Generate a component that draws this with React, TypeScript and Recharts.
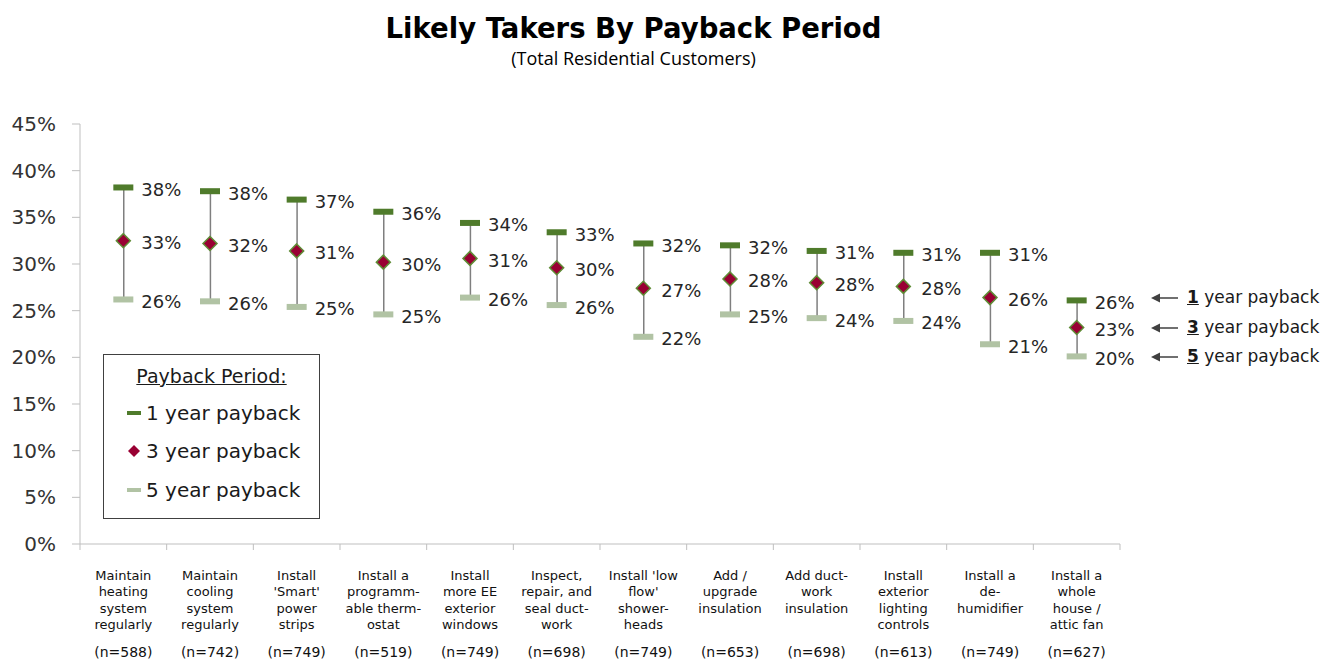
import React from "react";
import { ComposedChart, Bar, Line, XAxis, YAxis } from "recharts";

const categories = [
  "Maintain\nheating\nsystem\nregularly",
  "Maintain\ncooling\nsystem\nregularly",
  "Install\n'Smart'\npower\nstrips",
  "Install a\nprogramm-\nable therm-\nostat",
  "Install\nmore EE\nexterior\nwindows",
  "Inspect,\nrepair, and\nseal duct-\nwork",
  "Install 'low\nflow'\nshower-\nheads",
  "Add /\nupgrade\ninsulation",
  "Add duct-\nwork\ninsulation",
  "Install\nexterior\nlighting\ncontrols",
  "Install a\nde-\nhumidifier",
  "Install a\nwhole\nhouse /\nattic fan",
];
const sampleSizes = [588, 742, 749, 519, 749, 698, 749, 653, 698, 613, 749, 627];

const oneYear = [38.2, 37.8, 36.9, 35.6, 34.4, 33.4, 32.2, 32.0, 31.4, 31.2, 31.2, 26.1];
const threeYear = [32.5, 32.2, 31.4, 30.2, 30.6, 29.6, 27.4, 28.4, 28.0, 27.6, 26.4, 23.2];
const fiveYear = [26.2, 26.0, 25.4, 24.6, 26.4, 25.6, 22.2, 24.6, 24.2, 23.9, 21.4, 20.1];

const yTicks = [0, 5, 10, 15, 20, 25, 30, 35, 40, 45];
const xTicks = [0, 1, 2, 3, 4, 5, 6, 7, 8, 9, 10, 11, 12];

const data = categories.map((name, i) => ({
  pos: i + 0.5,
  name,
  n: sampleSizes[i],
  one: oneYear[i],
  three: threeYear[i],
  five: fiveYear[i],
  range: [fiveYear[i], oneYear[i]],
}));

const FONT = "'DejaVu Sans', Verdana, sans-serif";
const DARK_GREEN = "#4f7b2b";
const LIGHT_GREEN = "#b1c3a4";
const MAROON = "#990033";
const AXIS = "#bfbfbf";

const W = 1337;
const H = 662;
const MARGIN = { top: 124, right: 217, left: 10, bottom: 0 };
const Y_AXIS_W = 70;
const PLOT_W = W - MARGIN.left - MARGIN.right - Y_AXIS_W;
const BAND = PLOT_W / categories.length;

const CategoryTick = (props: any) => {
  const { x, y, payload } = props;
  const i = payload.value;
  if (i >= categories.length) return null;
  const cx = x + BAND / 2;
  const lines = categories[i].split("\n");
  return (
    <g>
      {lines.map((line, k) => (
        <text
          key={k}
          x={cx}
          y={y + 23 + k * 16.5}
          textAnchor="middle"
          dominantBaseline="central"
          fontSize={13}
          fontFamily={FONT}
          fill="#111"
        >
          {line}
        </text>
      ))}
      <text
        x={cx}
        y={y + 100}
        textAnchor="middle"
        dominantBaseline="central"
        fontSize={14}
        fontFamily={FONT}
        fill="#111"
      >
        {`(n=${sampleSizes[i]})`}
      </text>
    </g>
  );
};

const valueLabel = (props: any) => {
  const { x, y, value } = props;
  return (
    <text
      x={x + 18}
      y={y + 2}
      dominantBaseline="central"
      fontSize={18}
      fontFamily={FONT}
      fill="#262626"
    >
      {`${Math.round(value)}%`}
    </text>
  );
};

const OneDot = (props: any) => {
  const { cx, cy } = props;
  return <rect x={cx - 10} y={cy - 3} width={20} height={6} fill={DARK_GREEN} />;
};

const FiveDot = (props: any) => {
  const { cx, cy } = props;
  return <rect x={cx - 10} y={cy - 3} width={20} height={6} fill={LIGHT_GREEN} />;
};

const ThreeDot = (props: any) => {
  const { cx, cy } = props;
  const r = 7;
  return (
    <polygon
      points={`${cx},${cy - r} ${cx + r},${cy} ${cx},${cy + r} ${cx - r},${cy}`}
      fill={MAROON}
      stroke="#5f8c36"
      strokeWidth={1.5}
    />
  );
};

const Arrow = ({ y }: { y: number }) => (
  <svg
    width={30}
    height={12}
    style={{ position: "absolute", left: 1150, top: y - 6 }}
  >
    <line x1={8} y1={6} x2={28} y2={6} stroke="#404040" strokeWidth={1.5} />
    <polygon points="1,6 10,1.5 10,10.5" fill="#404040" />
  </svg>
);

const payLabels = [
  { num: "1", y: 298 },
  { num: "3", y: 328 },
  { num: "5", y: 357 },
];

export default function App() {
  return (
    <div
      style={{
        position: "absolute",
        left: 0,
        top: 0,
        width: W,
        height: H,
        background: "#fff",
        fontFamily: FONT,
      }}
    >
      <div
        style={{
          position: "absolute",
          left: 0,
          width: W - 70,
          top: 12,
          textAlign: "center",
          fontSize: 27.5,
          fontWeight: "bold",
          color: "#000",
        }}
      >
        Likely Takers By Payback Period
      </div>
      <div
        style={{
          position: "absolute",
          left: 0,
          width: W - 70,
          top: 46,
          textAlign: "center",
          fontSize: 18,
          fontFamily: "'Liberation Sans Narrow', 'Open Sans', sans-serif",
          color: "#000",
        }}
      >
        (Total Residential Customers)
      </div>

      <ComposedChart width={W} height={H} data={data} margin={MARGIN}>
        <XAxis
          dataKey="pos"
          type="number"
          domain={[0, 12]}
          ticks={xTicks}
          interval={0}
          height={118}
          axisLine={{ stroke: AXIS }}
          tickLine={{ stroke: AXIS }}
          tickSize={6}
          tick={<CategoryTick />}
        />
        <YAxis
          type="number"
          domain={[0, 45]}
          ticks={yTicks}
          interval={0}
          width={Y_AXIS_W}
          axisLine={{ stroke: AXIS }}
          tickLine={{ stroke: AXIS }}
          tickSize={8}
          tickMargin={16}
          tickFormatter={(v) => `${v}%`}
          tick={{ fontSize: 20, fontFamily: FONT, fill: "#333" }}
        />
        <Bar dataKey="range" barSize={1.5} fill="#7f7f7f" isAnimationActive={false} />
        <Line
          dataKey="five"
          stroke="none"
          dot={<FiveDot />}
          activeDot={false}
          label={valueLabel}
          isAnimationActive={false}
        />
        <Line
          dataKey="one"
          stroke="none"
          dot={<OneDot />}
          activeDot={false}
          label={valueLabel}
          isAnimationActive={false}
        />
        <Line
          dataKey="three"
          stroke="none"
          dot={<ThreeDot />}
          activeDot={false}
          label={valueLabel}
          isAnimationActive={false}
        />
      </ComposedChart>

      <div
        style={{
          position: "absolute",
          left: 103,
          top: 354,
          width: 215,
          height: 163,
          border: "1.5px solid #404040",
          background: "#fff",
          color: "#1a1a1a",
        }}
      >
        <div
          style={{
            position: "absolute",
            top: 10,
            width: "100%",
            textAlign: "center",
            fontSize: 19,
            textDecoration: "underline",
          }}
        >
          Payback Period:
        </div>
        {[
          { label: "1 year payback", top: 46, kind: "one" },
          { label: "3 year payback", top: 84, kind: "three" },
          { label: "5 year payback", top: 123, kind: "five" },
        ].map((item) => (
          <div
            key={item.label}
            style={{ position: "absolute", left: 20, top: item.top, fontSize: 20, display: "flex", alignItems: "center" }}
          >
            <svg width={20} height={16} style={{ marginRight: 2 }}>
              {item.kind === "three" ? (
                <polygon points="10,2 16,8 10,14 4,8" fill={MAROON} />
              ) : (
                <rect x={3} y={6} width={14} height={4} fill={item.kind === "one" ? DARK_GREEN : LIGHT_GREEN} />
              )}
            </svg>
            {item.label}
          </div>
        ))}
      </div>

      {payLabels.map((p) => (
        <React.Fragment key={p.num}>
          <Arrow y={p.y} />
          <div
            style={{
              position: "absolute",
              left: 1187,
              top: p.y - 11,
              fontSize: 17,
              color: "#1a1a1a",
              whiteSpace: "nowrap",
            }}
          >
            <b style={{ textDecoration: "underline" }}>{p.num}</b> year payback
          </div>
        </React.Fragment>
      ))}
    </div>
  );
}
